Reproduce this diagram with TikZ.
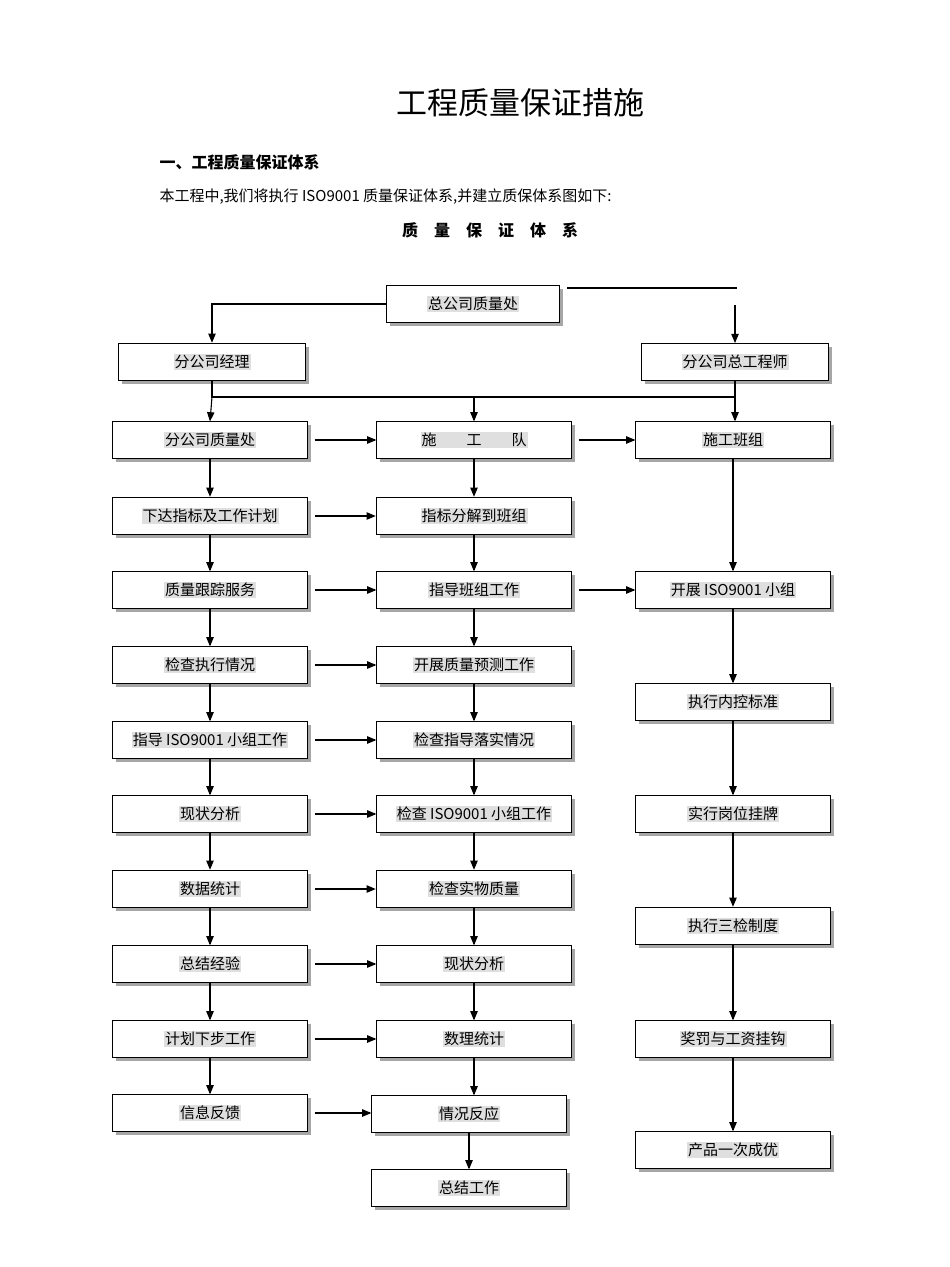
\documentclass[tikz,border=0pt]{standalone}
\usepackage{fontspec}
\setmainfont{Liberation Serif}
\newfontfamily\cjk{Noto Sans CJK SC}
\usetikzlibrary{shadows, arrows}
\newcommand{\hl}[1]{{\setlength{\fboxsep}{1pt}\colorbox{gray!25}{#1}}}
\tikzstyle{box} = [rectangle, draw=black, fill=white, minimum width=195pt, minimum height=37pt, font=\cjk\fontsize{15}{15}\selectfont, drop shadow={shadow xshift=3pt, shadow yshift=-3pt, fill=gray!70, opacity=1}]
\tikzstyle{narrow} = [box, minimum width=187pt]
\tikzstyle{heavy} = [box, line width=1.6pt]
\tikzstyle{arrow} = [line width=1.1pt, ->, >=triangle 45]

\begin{document}
\begin{tikzpicture}[x=1pt, y=-1pt, font=\cjk]
	\useasboundingbox (0,0) rectangle (950,1267);

	\node at (520,103) {\fontsize{31}{31}\selectfont 工程质量保证措施};
	\node[anchor=west] at (156,162) {\bfseries\fontsize{16}{16}\selectfont 一、工程质量保证体系};
	\node[anchor=west] at (156,197) {\fontsize{15}{15}\selectfont 本工程中,我们将执行 ISO9001 质量保证体系,并建立质保体系图如下:};
	\node at (490,230) {\bfseries\fontsize{16}{16}\selectfont 质\quad 量\quad 保\quad 证\quad 体\quad 系};

	\node (hq) [box, minimum width=173pt, line width=1.2pt] at (473,304) {\hl{总公司质量处}};
	\node (mgr) [heavy, narrow] at (212,362) {\hl{分公司经理}};
	\node (eng) [narrow, line width=1pt] at (735,362) {\hl{分公司总工程师}};

	% left column
	\node (a1) [box] at (210,440) {\hl{分公司质量处}};
	\node (a2) [heavy] at (210,516) {\hl{下达指标及工作计划}};
	\node (a3) [box] at (210,590) {\hl{质量跟踪服务}};
	\node (a4) [box] at (210,665) {\hl{检查执行情况}};
	\node (a5) [box] at (210,740) {\hl{指导 ISO9001 小组工作}};
	\node (a6) [box] at (210,814) {\hl{现状分析}};
	\node (a7) [heavy] at (210,889) {\hl{数据统计}};
	\node (a8) [box] at (210,964) {\hl{总结经验}};
	\node (a9) [box] at (210,1039) {\hl{计划下步工作}};
	\node (a10) [box] at (210,1113) {\hl{信息反馈}};

	% middle column
	\node (b1) [box] at (474,440) {\hl{施\qquad 工\qquad 队}};
	\node (b2) [heavy] at (474,516) {\hl{指标分解到班组}};
	\node (b3) [box] at (474,590) {\hl{指导班组工作}};
	\node (b4) [box] at (474,665) {\hl{开展质量预测工作}};
	\node (b5) [box] at (474,740) {\hl{检查指导落实情况}};
	\node (b6) [box] at (474,814) {\hl{检查 ISO9001 小组工作}};
	\node (b7) [heavy] at (474,889) {\hl{检查实物质量}};
	\node (b8) [box] at (474,964) {\hl{现状分析}};
	\node (b9) [box] at (474,1039) {\hl{数理统计}};
	\node (b10) [box] at (469,1114) {\hl{情况反应}};
	\node (b11) [box] at (469,1188) {\hl{总结工作}};

	% right column
	\node (c1) [box] at (733,440) {\hl{施工班组}};
	\node (c2) [box] at (733,590) {\hl{开展 ISO9001 小组}};
	\node (c3) [box] at (733,702) {\hl{执行内控标准}};
	\node (c4) [box] at (733,814) {\hl{实行岗位挂牌}};
	\node (c5) [heavy] at (733,926) {\hl{执行三检制度}};
	\node (c6) [box] at (733,1039) {\hl{奖罚与工资挂钩}};
	\node (c7) [box] at (733,1150) {\hl{产品一次成优}};

	\coordinate (topstart) at (567,288);
	\coordinate (topend) at (737,288);
	\coordinate (engin) at (735,305);
	\coordinate (busl) at (212,397);
	\coordinate (busr) at (735,397);

	\draw [arrow] (hq.west) -| (mgr.north);
	\draw [line width=1.6pt] (topstart) -- (topend);
	\draw [arrow] (engin) -- (eng.north);
	\draw [line width=1.1pt] (mgr.south) -- (busl) -- (busr);
	\draw [line width=1.1pt] (eng.south) -- (busr);
	\draw [arrow] (busl) -- (a1.north);
	\draw [arrow] (b1.north |- busl) -- (b1.north);
	\draw [arrow] (busr) -- (busr |- c1.north);

	\foreach \i/\j in {1/2,2/3,3/4,4/5,5/6,6/7,7/8,8/9,9/10} {
		\draw [arrow] (a\i) -- (a\j);
		\draw [arrow] (b\i.south) -- (b\i.south |- b\j.north);
	}
	\draw [arrow] (b10) -- (b11);
	\foreach \i/\j in {1/2,2/3,3/4,4/5,5/6,6/7}
		\draw [arrow] (c\i) -- (c\j);

	\foreach \i in {1,...,10}
		\draw [arrow, shorten <=7pt] (a\i.east) -- (b\i.west |- a\i.east);
	\draw [arrow, shorten <=7pt] (b1.east) -- (c1.west);
	\draw [arrow, shorten <=7pt] (b3.east) -- (c2.west);
\end{tikzpicture}
\end{document}
